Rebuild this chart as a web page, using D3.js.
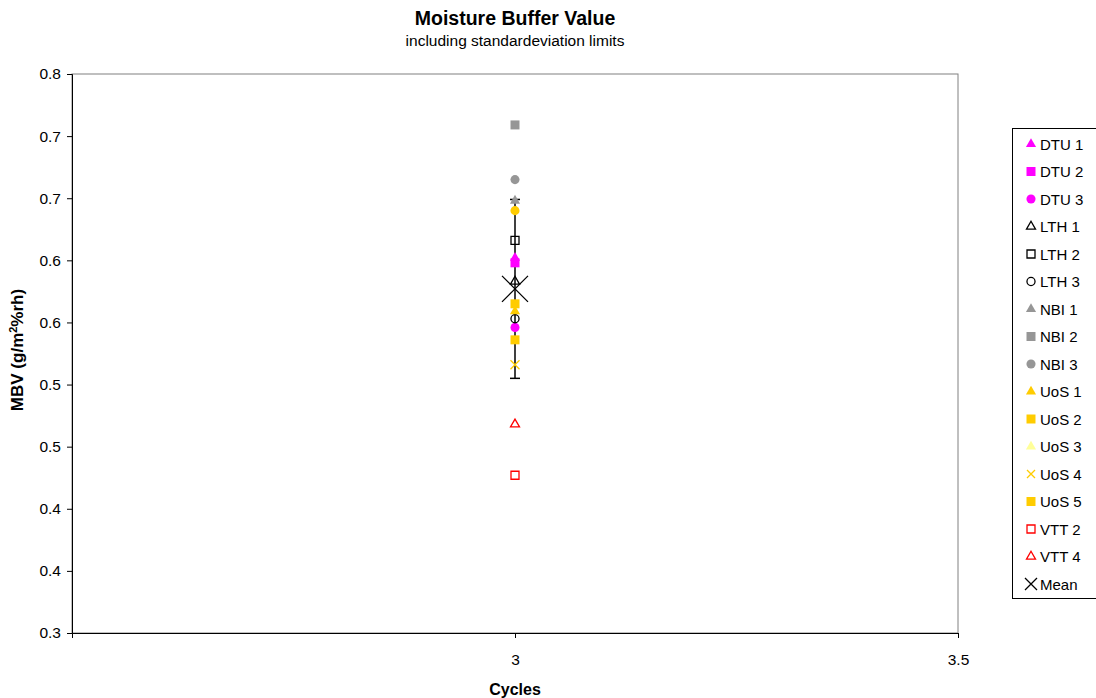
<!DOCTYPE html>
<html>
<head>
<meta charset="utf-8">
<script src="https://cdn.jsdelivr.net/npm/d3@7"></script>
<style>
  body { margin: 0; background: #fff; }
  svg { display: block; font-family: "Liberation Sans", Arial, sans-serif; }
</style>
</head>
<body>
<svg id="chart" width="1096" height="698"></svg>
<script>
    /*
    Chart data
     */
    var seriesNames  = ["DTU 1", "DTU 2", "DTU 3", "LTH 1", "LTH 2", "LTH 3", "NBI 1", "NBI 2", "NBI 3",
                        "UoS 1", "UoS 2", "UoS 3", "UoS 4", "UoS 5", "VTT 2", "VTT 4"];
    var seriesValues = [0.652, 0.648, 0.596, 0.633, 0.666, 0.603, 0.698, 0.759, 0.715,
                        0.609, 0.615, null, 0.566, 0.586, 0.477, 0.518];
    var seriesShapes = ["triangle", "square", "circle", "triangle", "square", "circle", "triangle", "square", "circle",
                        "triangle", "square", "triangle", "cross", "square", "square", "triangle"];
    var seriesColors = ["#ff00ff", "#ff00ff", "#ff00ff", "#000000", "#000000", "#000000", "#969696", "#969696", "#969696",
                        "#ffcc00", "#ffcc00", "#ffff99", "#ffcc00", "#ffcc00", "#ff0000", "#ff0000"];
    var seriesOpen   = [false, false, false, true, true, true, false, false, false,
                        false, false, false, false, false, true, true];

    // one extra point that has no legend entry
    var extraValues = [0.690];

    var cycle = 3;
    var meanValue = 0.627;
    var sdValue = 0.072;

    var yTicks      = [0.35, 0.40, 0.45, 0.50, 0.55, 0.60, 0.65, 0.70, 0.75, 0.80];
    var yTickLabels = ["0.3", "0.4", "0.4", "0.5", "0.5", "0.6", "0.6", "0.7", "0.7", "0.8"];
    var xTicks      = [3, 3.5];

    var margin = {left: 72, right: 958, top: 74, bottom: 633};
    var svg = d3.select("#chart");

    var x = d3.scaleLinear().domain([2.5, 3.5]).range([margin.left, margin.right]);
    var y = d3.scaleLinear().domain([0.35, 0.80]).range([margin.bottom, margin.top]);

    /*
    Plot frame: grey top/right edge, black axes
     */
    svg.append("rect")
        .attr("x", margin.left).attr("y", margin.top)
        .attr("width", margin.right - margin.left)
        .attr("height", margin.bottom - margin.top)
        .attr("fill", "none").attr("stroke", "#808080").attr("stroke-width", 1);

    var yAxis = d3.axisLeft(y).tickValues(yTicks).tickSize(5).tickPadding(6)
        .tickFormat(function(d, i){ return yTickLabels[i]; });
    svg.append("g")
        .attr("transform", "translate(" + margin.left + ",0)")
        .call(yAxis)
        .call(styleAxis);

    var xAxis = d3.axisBottom(x).tickValues(xTicks).tickSize(5).tickPadding(16)
        .tickFormat(d3.format(""));
    svg.append("g")
        .attr("transform", "translate(0," + margin.bottom + ")")
        .call(xAxis)
        .call(styleAxis);

    function styleAxis(g){
        g.select(".domain").attr("stroke", "#000");
        g.selectAll(".tick line").attr("stroke", "#000");
        g.selectAll(".tick text").attr("fill", "#000").style("font-size", "15.5px");
    }

    /*
    Titles
     */
    svg.append("text")
        .attr("x", 515).attr("y", 25)
        .attr("text-anchor", "middle")
        .style("font-size", "19.5px").style("font-weight", "bold")
        .text("Moisture Buffer Value");
    svg.append("text")
        .attr("x", 515).attr("y", 46)
        .attr("text-anchor", "middle")
        .style("font-size", "15.5px")
        .text("including standardeviation limits");

    svg.append("text")
        .attr("x", 515).attr("y", 695)
        .attr("text-anchor", "middle")
        .style("font-size", "16px").style("font-weight", "bold")
        .text("Cycles");

    var yLabel = svg.append("text")
        .attr("transform", "translate(23,350) rotate(-90)")
        .attr("text-anchor", "middle")
        .style("font-size", "17px").style("font-weight", "bold");
    yLabel.append("tspan").text("MBV (g/m");
    yLabel.append("tspan").attr("dy", -6).style("font-size", "11px").text("2");
    yLabel.append("tspan").attr("dy", 6).text("%rh)");

    /*
    markerPath()
        Build the path for one marker shape at a given size
     */
    function markerPath(shape, size){
        var types = {
            triangle: d3.symbolTriangle,
            square: d3.symbolSquare,
            circle: d3.symbolCircle
        };
        if(shape == "cross"){
            var h = size / 2;
            return "M" + (-h) + "," + (-h) + "L" + h + "," + h + "M" + (-h) + "," + h + "L" + h + "," + (-h);
        }
        var area = {triangle: size * size * 0.55, square: size * size, circle: size * size * 0.8}[shape];
        return d3.symbol().type(types[shape]).size(area)();
    }

    function drawMarker(g, shape, color, open, size){
        var p = g.append("path").attr("d", markerPath(shape, size));
        if(shape == "cross" || open){
            p.attr("fill", "none").attr("stroke", color).attr("stroke-width", 1.3);
        } else {
            p.attr("fill", color).attr("stroke", "none");
        }
        return p;
    }

    /*
    Standard deviation bar round the mean
     */
    var bar = svg.append("g").attr("stroke", "#000").attr("stroke-width", 1.5);
    bar.append("line")
        .attr("x1", x(cycle)).attr("x2", x(cycle))
        .attr("y1", y(meanValue + sdValue)).attr("y2", y(meanValue - sdValue));
    [meanValue + sdValue, meanValue - sdValue].forEach(function(v){
        bar.append("line")
            .attr("x1", x(cycle) - 5).attr("x2", x(cycle) + 5)
            .attr("y1", y(v)).attr("y2", y(v));
    });

    /*
    Series points
     */
    extraValues.forEach(function(v){
        var g = svg.append("g").attr("transform", "translate(" + x(cycle) + "," + y(v) + ")");
        drawMarker(g, "circle", "#ffcc00", false, 9);
    });

    seriesNames.forEach(function(name, i){
        if(seriesValues[i] == null) return;
        var g = svg.append("g").attr("transform", "translate(" + x(cycle) + "," + y(seriesValues[i]) + ")");
        drawMarker(g, seriesShapes[i], seriesColors[i], seriesOpen[i], seriesOpen[i] ? 8 : 9);
    });

    var meanG = svg.append("g").attr("transform", "translate(" + x(cycle) + "," + y(meanValue) + ")");
    drawMarker(meanG, "cross", "#000", false, 26);

    /*
    Legend, clipped by the right edge like the reference
     */
    var legendNames = seriesNames.concat(["Mean"]);
    var legendShapes = seriesShapes.concat(["cross"]);
    var legendColors = seriesColors.concat(["#000000"]);
    var legendOpen = seriesOpen.concat([false]);

    svg.append("rect")
        .attr("x", 1012.5).attr("y", 128.5)
        .attr("width", 100).attr("height", 470)
        .attr("fill", "#fff").attr("stroke", "#000").attr("stroke-width", 1);

    legendNames.forEach(function(name, i){
        var ly = 144 + i * 27.5;
        var g = svg.append("g").attr("transform", "translate(1031," + ly + ")");
        var size = name == "Mean" ? 12 : (legendOpen[i] || legendShapes[i] == "cross" ? 8 : 9);
        drawMarker(g, legendShapes[i], legendColors[i], legendOpen[i], size);
        svg.append("text")
            .attr("x", 1040).attr("y", ly + 5.5)
            .style("font-size", "15px")
            .text(name);
    });
</script>
</body>
</html>
